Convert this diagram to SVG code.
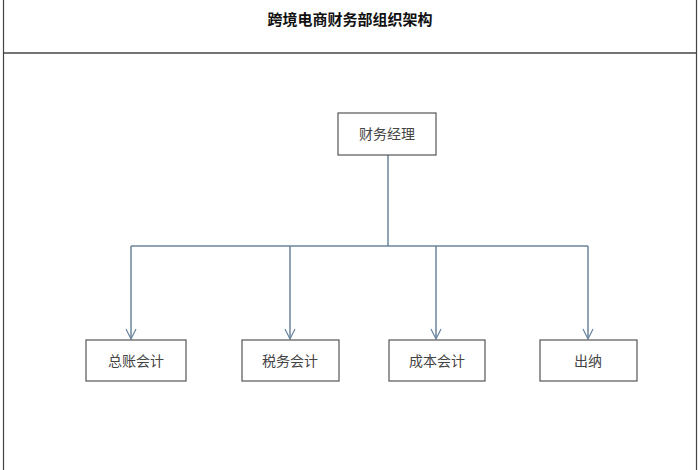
<svg xmlns="http://www.w3.org/2000/svg" width="700" height="470" viewBox="0 0 700 470">
<defs>
<style>
.box{fill:#fff;stroke:#555;stroke-width:1.2}
.t{font-family:"Liberation Serif","Noto Sans CJK SC",serif;font-size:14px;fill:#444;text-anchor:middle}
.c{stroke:#6a849c;stroke-width:1.5;fill:none}
</style>
<marker id="a" viewBox="0 0 12 12" refX="11" refY="6" markerWidth="12" markerHeight="12" markerUnits="userSpaceOnUse" orient="auto">
<path d="M1 1 L11 6 L1 11" fill="none" stroke="#6a849c" stroke-width="1.2"/>
</marker>
</defs>
<rect width="700" height="470" fill="#fff"/>
<rect x="3.5" y="-2" width="693" height="480" fill="none" stroke="#444" stroke-width="1.2"/>
<line x1="3.5" y1="53" x2="696.5" y2="53" stroke="#444" stroke-width="1.5"/>
<text x="350" y="25" font-family="Liberation Serif,Noto Sans CJK SC,serif" font-size="15" font-weight="bold" text-anchor="middle" fill="#111">跨境电商财务部组织架构</text>
<g id="connectors">
<path class="c" d="M388 155 V246"/>
<path class="c" d="M131 246 H588"/>
<path class="c" d="M131 246 V339" marker-end="url(#a)"/>
<path class="c" d="M290 246 V339" marker-end="url(#a)"/>
<path class="c" d="M436 246 V339" marker-end="url(#a)"/>
<path class="c" d="M588 246 V339" marker-end="url(#a)"/>
</g>
<g id="n0"><rect class="box" x="338" y="113" width="98" height="42"/><text class="t" x="387" y="139">财务经理</text></g>
<g id="n1"><rect class="box" x="86" y="340" width="100" height="41"/><text class="t" x="136" y="366">总账会计</text></g>
<g id="n2"><rect class="box" x="242" y="340" width="97" height="41"/><text class="t" x="290" y="366">税务会计</text></g>
<g id="n3"><rect class="box" x="389" y="340" width="96" height="41"/><text class="t" x="437" y="366">成本会计</text></g>
<g id="n4"><rect class="box" x="540" y="340" width="97" height="41"/><text class="t" x="588" y="366">出纳</text></g>
</svg>
